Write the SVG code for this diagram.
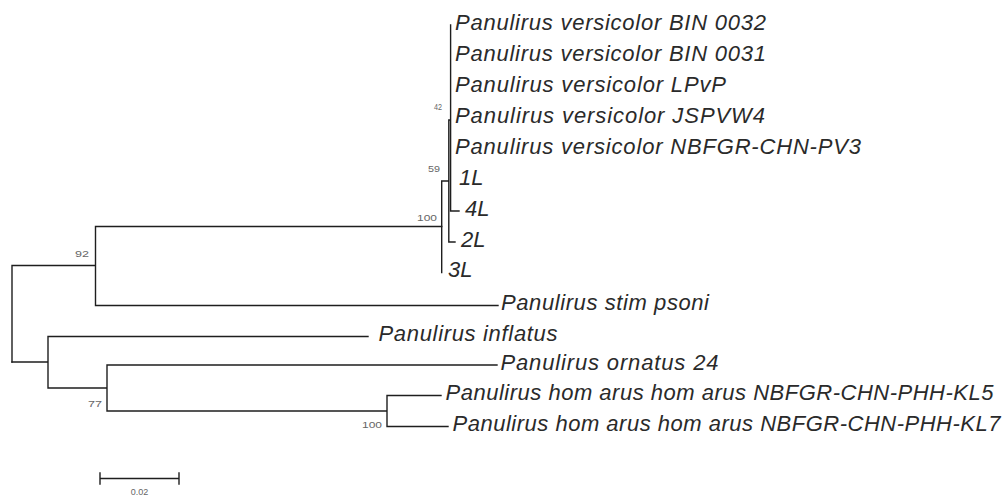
<svg xmlns="http://www.w3.org/2000/svg" width="1005" height="499" viewBox="0 0 1005 499">
<style>
.br{stroke:#1e1e1e;stroke-width:1.4;fill:none;stroke-linecap:square}
.tx{font-family:"Liberation Sans",Arial,sans-serif;font-style:italic;font-size:22px;fill:#2a2a2a}
.bs{font-family:"Liberation Sans",Arial,sans-serif;font-size:9px;fill:#666}
</style>
<rect width="1005" height="499" fill="#fff"/>
<g id="connectors">
<path class="br" d="M12 265.5V362M12 265.5H95.5M95.5 226.5V305.5M95.5 226.5H441.7M95.5 305.5H498"/>
<path class="br" d="M441.7 181V272.5M441.7 181H448.8M448.8 120V242M448.8 242H455M448.8 120H450.6M450.6 25V211M450.6 211H459"/>
<path class="br" d="M12 362H48M48 336.5V388M48 336.5H368M48 388H107M107 365V411M107 365H497M107 411H387M387 395.5V426.5M387 395.5H441M387 426.5H448"/>
</g>
<g id="tip-v1"><text class="tx" x="455" y="29.5" textLength="311">Panulirus versicolor BIN 0032</text></g>
<g id="tip-v2"><text class="tx" x="455" y="60.5" textLength="311">Panulirus versicolor BIN 0031</text></g>
<g id="tip-v3"><text class="tx" x="455" y="91.5" textLength="271">Panulirus versicolor LPvP</text></g>
<g id="tip-v4"><text class="tx" x="455" y="122.5" textLength="310">Panulirus versicolor JSPVW4</text></g>
<g id="tip-v5"><text class="tx" x="455" y="153.5" textLength="406">Panulirus versicolor NBFGR-CHN-PV3</text></g>
<g id="tip-1L"><text class="tx" x="459" y="184.5">1L</text></g>
<g id="tip-4L"><text class="tx" x="465" y="215.5">4L</text></g>
<g id="tip-2L"><text class="tx" x="461" y="246.5">2L</text></g>
<g id="tip-3L"><text class="tx" x="448" y="277">3L</text></g>
<g id="tip-stimpsoni"><text class="tx" x="501" y="310" textLength="208">Panulirus stim psoni</text></g>
<g id="tip-inflatus"><text class="tx" x="378.5" y="341" textLength="179">Panulirus inflatus</text></g>
<g id="tip-ornatus"><text class="tx" x="500.5" y="369.5" textLength="218">Panulirus ornatus 24</text></g>
<g id="tip-kl5"><text class="tx" x="445.5" y="400" textLength="548">Panulirus hom arus hom arus NBFGR-CHN-PHH-KL5</text></g>
<g id="tip-kl7"><text class="tx" x="452.5" y="431" textLength="548">Panulirus hom arus hom arus NBFGR-CHN-PHH-KL7</text></g>
<g id="support">
<text class="bs" x="434" y="110" textLength="8" lengthAdjust="spacingAndGlyphs">42</text>
<text class="bs" x="428" y="172" textLength="12" lengthAdjust="spacingAndGlyphs">59</text>
<text class="bs" x="417" y="220.5" textLength="20" lengthAdjust="spacingAndGlyphs">100</text>
<text class="bs" x="75" y="256.5" textLength="14" lengthAdjust="spacingAndGlyphs">92</text>
<text class="bs" x="88" y="406.5" textLength="14" lengthAdjust="spacingAndGlyphs">77</text>
<text class="bs" x="362" y="427.5" textLength="20" lengthAdjust="spacingAndGlyphs">100</text>
</g>
<g id="scale">
<path class="br" d="M100 478.5H179M100 473V484M179 473V484"/>
<text class="bs" x="139.5" y="495" text-anchor="middle">0.02</text>
</g>
</svg>
